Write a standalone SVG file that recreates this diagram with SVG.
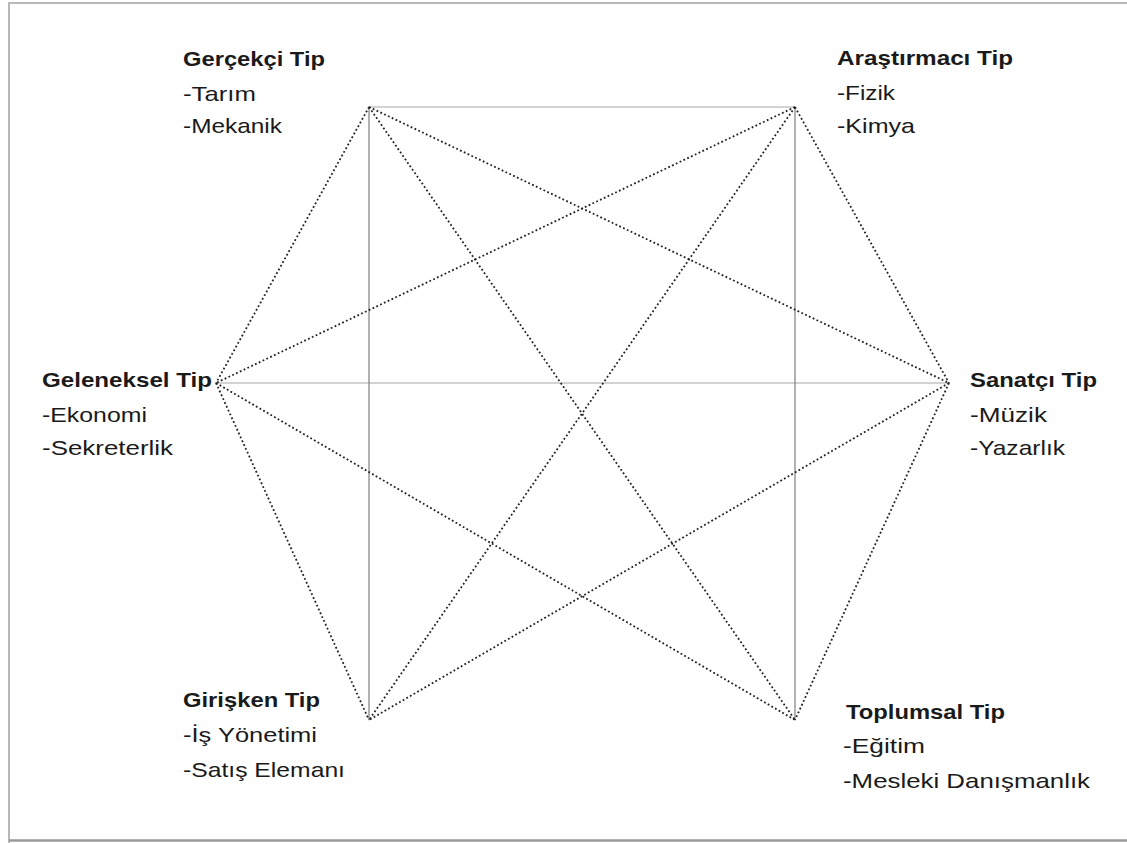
<svg xmlns="http://www.w3.org/2000/svg" width="1127" height="843" viewBox="0 0 1127 843">
<style>
.t{font-family:"Liberation Sans",Arial,sans-serif;font-size:21px;fill:#1a1a1a}
.b{font-weight:bold;font-size:21px}
.dot{stroke:#222;stroke-width:1.8;stroke-dasharray:1.8 2.4;fill:none}
.sol{stroke:#888;stroke-width:1.3;fill:none}
.light{stroke:#c4c4c4;stroke-width:1.3;fill:none}
.frame{stroke:#b8b8b8;stroke-width:2;fill:none}
</style>
<rect width="1127" height="843" fill="#fff"/>
<g id="frame">
<path class="frame" d="M9,844 V3 H1130"/>
<path d="M9,840.5 H1130" stroke="#9a9a9a" stroke-width="2.5" fill="none"/>
</g>
<g id="connectors">
<line class="light" x1="369" y1="107" x2="795" y2="107"/>
<line class="light" x1="216" y1="383" x2="949" y2="383"/>
<line class="sol" x1="369" y1="107" x2="369" y2="720"/>
<line class="sol" x1="795" y1="107" x2="795" y2="720" stroke="#666"/>
<line class="dot" x1="369" y1="107" x2="216" y2="383"/>
<line class="dot" x1="369" y1="107" x2="949" y2="383"/>
<line class="dot" x1="369" y1="107" x2="795" y2="720"/>
<line class="dot" x1="795" y1="107" x2="216" y2="383"/>
<line class="dot" x1="795" y1="107" x2="369" y2="720"/>
<line class="dot" x1="795" y1="107" x2="949" y2="383"/>
<line class="dot" x1="949" y1="383" x2="369" y2="720"/>
<line class="dot" x1="949" y1="383" x2="795" y2="720"/>
<line class="dot" x1="216" y1="383" x2="369" y2="720"/>
<line class="dot" x1="216" y1="383" x2="795" y2="720"/>
</g>
<g id="gercekci">
<text class="t b" x="183" y="66" textLength="142" lengthAdjust="spacingAndGlyphs">Gerçekçi Tip</text>
<text class="t" x="183" y="101" textLength="73" lengthAdjust="spacingAndGlyphs">-Tarım</text>
<text class="t" x="183" y="133" textLength="99" lengthAdjust="spacingAndGlyphs">-Mekanik</text>
</g>
<g id="arastirmaci">
<text class="t b" x="837" y="65" textLength="176" lengthAdjust="spacingAndGlyphs">Araştırmacı Tip</text>
<text class="t" x="837" y="100" textLength="58" lengthAdjust="spacingAndGlyphs">-Fizik</text>
<text class="t" x="837" y="133" textLength="78" lengthAdjust="spacingAndGlyphs">-Kimya</text>
</g>
<g id="geleneksel">
<text class="t b" x="42" y="387" textLength="170" lengthAdjust="spacingAndGlyphs">Geleneksel Tip</text>
<text class="t" x="42" y="422" textLength="105" lengthAdjust="spacingAndGlyphs">-Ekonomi</text>
<text class="t" x="42" y="455" textLength="131" lengthAdjust="spacingAndGlyphs">-Sekreterlik</text>
</g>
<g id="sanatci">
<text class="t b" x="970" y="387" textLength="127" lengthAdjust="spacingAndGlyphs">Sanatçı Tip</text>
<text class="t" x="970" y="422" textLength="77" lengthAdjust="spacingAndGlyphs">-Müzik</text>
<text class="t" x="970" y="455" textLength="95" lengthAdjust="spacingAndGlyphs">-Yazarlık</text>
</g>
<g id="girisken">
<text class="t b" x="183" y="707" textLength="137" lengthAdjust="spacingAndGlyphs">Girişken Tip</text>
<text class="t" x="183" y="742" textLength="134" lengthAdjust="spacingAndGlyphs">-İş Yönetimi</text>
<text class="t" x="183" y="777" textLength="162" lengthAdjust="spacingAndGlyphs">-Satış Elemanı</text>
</g>
<g id="toplumsal">
<text class="t b" x="846" y="719" textLength="159" lengthAdjust="spacingAndGlyphs">Toplumsal Tip</text>
<text class="t" x="843" y="753" textLength="82" lengthAdjust="spacingAndGlyphs">-Eğitim</text>
<text class="t" x="843" y="788" textLength="247" lengthAdjust="spacingAndGlyphs">-Mesleki Danışmanlık</text>
</g>
</svg>
